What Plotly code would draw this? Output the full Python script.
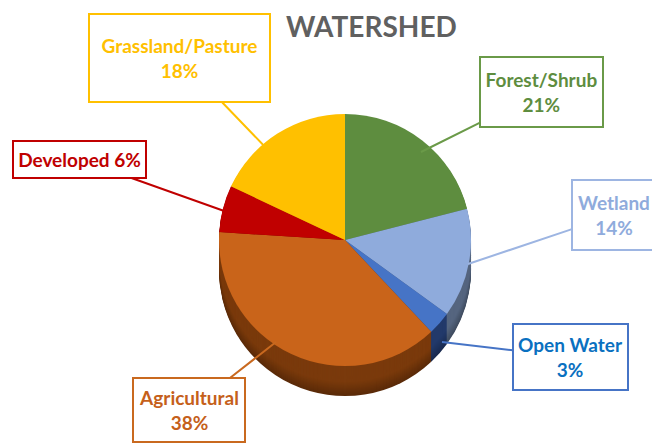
import plotly.graph_objects as go

# ---- data ----
categories = ["Forest/Shrub", "Wetland", "Open Water", "Agricultural", "Developed", "Grassland/Pasture"]
shares = [21, 14, 3, 38, 6, 18]
top_colors = ["#5E8D3F", "#8FABDC", "#4674C6", "#C9641A", "#C00000", "#FFC000"]
side_colors = ["#3F5F2A", "#55657F", "#22396A", "#7A3A0C", "#7A0000", "#B38600"]
label_colors = ["#5E8D3F", "#8FABDC", "#0A70C0", "#C5601A", "#C00000", "#FFC000"]
border_colors = ["#6A9A48", "#9DB5E2", "#4674C6", "#C9691F", "#C00000", "#FFC000"]
title_text = "WATERSHED"

W, H = 660, 445
OFF = 8  # page body margin offset
FONT = "Lato, Noto Sans, sans-serif"


def px(x):
    return (x - OFF) / W


def py(y):
    return 1 - (y - OFF) / H


def shade(hex_color, f):
    h = hex_color.lstrip("#")
    r, g, b = (int(h[i:i + 2], 16) for i in (0, 2, 4))
    return "#%02X%02X%02X" % (min(255, int(r * f)), min(255, int(g * f)), min(255, int(b * f)))


fig = go.Figure()

# pie geometry (pixels)
cx, cy, R = 345, 240, 126
depth = 30

# extruded side: stacked copies of the pie, deepest first
for k in range(depth, 0, -1):
    f = 0.75 + 0.55 * (1 - k / depth)
    cols = [shade(c, min(f, 1.0)) for c in side_colors]
    fig.add_trace(go.Pie(
        labels=categories, values=shares, sort=False, direction="clockwise", rotation=0,
        marker=dict(colors=cols, line=dict(width=0)),
        textinfo="none", hoverinfo="skip", showlegend=False,
        domain=dict(x=[px(cx - R), px(cx + R)], y=[py(cy + R + k), py(cy - R + k)]),
    ))

# top face
fig.add_trace(go.Pie(
    labels=categories, values=shares, sort=False, direction="clockwise", rotation=0,
    marker=dict(colors=top_colors, line=dict(width=0)),
    textinfo="none", showlegend=False,
    domain=dict(x=[px(cx - R), px(cx + R)], y=[py(cy + R), py(cy - R)]),
))

# callouts: (index, tip px, box center px, box w, box h, text)
callouts = [
    (0, (421, 152), (541.5, 92), 125, 72, f"<b>{categories[0]}<br>{shares[0]}%</b>"),
    (1, (468, 264), (614, 215), 86, 72, f"<b>{categories[1]}<br>{shares[1]}%</b>"),
    (2, (442, 342), (570.5, 357), 117, 68, f"<b>{categories[2]}<br>{shares[2]}%</b>"),
    (3, (276, 342), (189, 410), 114, 66, f"<b>{categories[3]}<br>{shares[3]}%</b>"),
    (4, (227, 212), (79.5, 159.5), 135, 39, f"<b>{categories[4]} {shares[4]}%</b>"),
    (5, (270, 152), (179.5, 58), 183, 90, f"<b>{categories[5]}<br>{shares[5]}%</b>"),
]

for i, tip, box, bw, bh, txt in callouts:
    fig.add_annotation(
        x=px(tip[0]), y=py(tip[1]), xref="paper", yref="paper",
        ax=box[0] - tip[0], ay=box[1] - tip[1],
        text=txt, showarrow=True, arrowhead=0, arrowwidth=2, arrowcolor=border_colors[i],
        font=dict(family=FONT, size=19, color=label_colors[i]),
        bgcolor="white", bordercolor=border_colors[i], borderwidth=2, borderpad=0,
        width=bw - 4, height=bh - 4, align="center", valign="middle",
    )

fig.add_annotation(
    x=px(371), y=1.0, xref="paper", yref="paper", showarrow=False,
    xanchor="center", yanchor="top", borderpad=0,
    text=f"<b>{title_text}</b>", font=dict(family=FONT, size=28, color="#606060"),
)

fig.update_layout(
    width=W, height=H, autosize=False,
    margin=dict(l=0, r=0, t=0, b=0),
    paper_bgcolor="white", plot_bgcolor="white",
    showlegend=False,
)

fig.write_html("out.html")
